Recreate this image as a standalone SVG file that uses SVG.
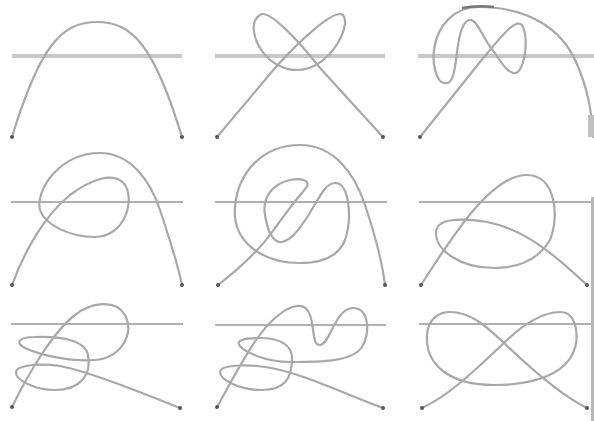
<svg xmlns="http://www.w3.org/2000/svg" width="594" height="421" viewBox="0 0 594 421">
<style>
.c{fill:none;stroke:#a8a8a8;stroke-width:2.2;stroke-linecap:round;stroke-linejoin:round}
.h1{stroke:#c8c8c8;stroke-width:4}
.h2{stroke:#b0b0b0;stroke-width:2}
.d{fill:#555}
</style>
<rect width="594" height="421" fill="#fff"/>
<g id="panel1">
<line class="h1" x1="12" y1="56" x2="182" y2="56"/>
<path class="c" d="M12,137 C40,45 62,22 97,22 C132,22 154,45 182,137"/>
<circle class="d" cx="12" cy="137" r="2"/><circle class="d" cx="182" cy="137" r="2"/>
</g>
<g id="panel2">
<line class="h1" x1="215" y1="56" x2="385" y2="56"/>
<path class="c" d="M217,137 L275,68 C300,40 335,8 343,15 C352,25 330,70 297,70 C262,70 243,25 260,15 C268,8 298,40 320,68 L383,137"/>
<circle class="d" cx="217" cy="137" r="2"/><circle class="d" cx="383" cy="137" r="2"/>
</g>
<g id="panel3">
<line class="h1" x1="418" y1="56" x2="594" y2="56"/>
<path class="c" d="M420,137 L480,62 C500,38 515,18 522,25 C530,38 524,75 514,73 C505,72 498,56 491,48 C481,34 476,18 469,20 C460,23 458,45 456,60 C454,75 452,85 444,83 C436,82 432,62 434,50 C437,25 455,7 478,7 C530,7 562,30 576,62 C588,88 592,112 593,137"/>
<path d="M462,8 C472,6 485,6 494,7" fill="none" stroke="#777" stroke-width="2.5"/>
<rect x="588" y="115" width="6" height="22" fill="#c0c0c0"/>
<circle class="d" cx="420" cy="137" r="2"/>
</g>
<g id="panel4">
<line class="h2" x1="11" y1="202" x2="183" y2="202"/>
<path class="c" d="M12,285 C25,250 45,215 70,195 C90,180 115,170 125,185 C135,200 125,237 95,237 C70,237 45,225 40,210 C35,190 60,153 100,153 C130,153 150,180 160,210 C170,240 178,265 182,285"/>
<circle class="d" cx="12" cy="285" r="2"/><circle class="d" cx="182" cy="285" r="2"/>
</g>
<g id="panel5">
<line class="h2" x1="215" y1="202" x2="387" y2="202"/>
<path class="c" d="M218,285 C240,268 260,250 275,228 C288,210 300,195 306,188 C312,180 300,178 290,180 C272,184 262,198 265,215 C268,235 275,243 282,242 C292,240 300,228 308,216 C318,200 325,183 335,183 C350,183 352,220 345,240 C338,258 320,263 300,263 C260,263 232,240 235,207 C238,170 265,145 300,145 C335,145 355,175 365,205 C375,235 382,260 385,285"/>
<circle class="d" cx="218" cy="285" r="2"/><circle class="d" cx="385" cy="285" r="2"/>
</g>
<g id="panel6">
<line class="h2" x1="419" y1="202" x2="594" y2="202"/>
<path class="c" d="M421,285 C450,240 490,175 527,175 C555,175 560,215 550,240 C535,265 510,268 494,268 C460,268 435,250 436,232 C437,218 460,218 487,222 C530,230 565,265 587,285"/>
<circle class="d" cx="421" cy="285" r="2"/><circle class="d" cx="587" cy="285" r="2"/>
</g>
<g id="panel7">
<line class="h2" x1="11" y1="324" x2="183" y2="324"/>
<path class="c" d="M12,407 C30,370 55,330 75,315 C90,303 115,298 125,315 C135,335 120,358 95,360 C70,362 40,355 25,348 C15,343 18,337 35,337 C60,336 85,340 88,355 C92,375 80,390 55,390 C35,390 15,380 16,372 C17,365 40,363 60,366 C90,372 140,392 180,408"/>
<circle class="d" cx="12" cy="407" r="2"/><circle class="d" cx="180" cy="408" r="2"/>
</g>
<g id="panel8">
<line class="h2" x1="215" y1="325" x2="386" y2="325"/>
<path class="c" d="M217,407 C235,375 255,335 275,318 C290,305 305,300 310,315 C315,330 312,345 320,345 C330,345 335,308 353,308 C370,308 370,335 362,347 C352,362 320,362 290,362 C265,362 245,352 240,346 C235,340 245,338 260,338 C280,338 292,345 292,358 C292,378 285,390 262,390 C240,390 220,380 220,372 C220,365 245,364 265,367 C300,372 340,392 383,408"/>
<circle class="d" cx="217" cy="407" r="2"/><circle class="d" cx="383" cy="408" r="2"/>
</g>
<g id="panel9">
<line class="h2" x1="419" y1="324" x2="594" y2="324"/>
<path class="c" d="M422,408 C450,395 475,370 504,343 C525,322 545,312 560,312 C578,312 580,340 572,355 C560,378 525,385 494,385 C450,385 425,365 427,335 C428,318 440,312 450,312 C470,312 485,325 504,343 C530,368 560,395 587,408"/>
<circle class="d" cx="422" cy="408" r="2"/><circle class="d" cx="587" cy="408" r="2"/>
</g>
<line x1="592.5" y1="197" x2="592.5" y2="421" stroke="#b8b8b8" stroke-width="3"/>
</svg>
